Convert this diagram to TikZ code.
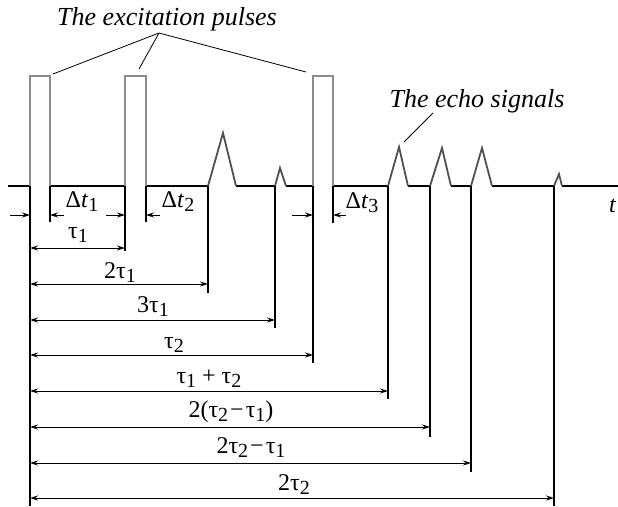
\documentclass[tikz,border=0pt]{standalone}
\usepackage{fontspec}
\setmainfont{Liberation Serif}
\usetikzlibrary{arrows.meta}
\newcommand\sbx[1]{\raisebox{-0.2em}{\fontsize{20}{20}\selectfont #1}}
\definecolor{pulsegray}{HTML}{8C8C8C}
\definecolor{echogray}{HTML}{505050}
\begin{document}
\begin{tikzpicture}[x=1pt,y=-1pt,
  base/.style={line width=2pt,black},
  pulse/.style={line width=2.3pt,pulsegray},
  echo/.style={line width=1.8pt,echogray},
  vl/.style={line width=1.2pt,black},
  dim/.style={line width=1pt,{Stealth[length=8pt,width=5pt]}-{Stealth[length=8pt,width=5pt]}},
  sarr/.style={line width=1pt,-{Stealth[length=8pt,width=5pt]}},
  lead/.style={line width=0.8pt},
  lab/.style={font=\fontsize{24}{26}\selectfont,inner sep=0pt,anchor=base},
  ttl/.style={font=\fontsize{26}{28}\selectfont\itshape,inner sep=0pt}]
\useasboundingbox (0,0) rectangle (618,506);
% key coordinates
\coordinate (top) at (0,76);
\coordinate (bot) at (0,506);
\coordinate (b0) at (8,186);
\coordinate (bend) at (618,186);
\coordinate (p1a) at (30,186);  \coordinate (p1b) at (50,186);
\coordinate (p2a) at (125,186); \coordinate (p2b) at (146,186);
\coordinate (p3a) at (313,186); \coordinate (p3b) at (333,186);
\coordinate (e1a) at (208,186); \coordinate (e1p) at (223,133); \coordinate (e1b) at (236,186);
\coordinate (e2a) at (275,186); \coordinate (e2p) at (280,168); \coordinate (e2b) at (286,186);
\coordinate (e3a) at (388,186); \coordinate (e3p) at (399,147); \coordinate (e3b) at (408,186);
\coordinate (e4a) at (430,186); \coordinate (e4p) at (442,148); \coordinate (e4b) at (451,186);
\coordinate (e5a) at (471,186); \coordinate (e5p) at (482,148); \coordinate (e5b) at (492,186);
\coordinate (e6a) at (554,186); \coordinate (e6p) at (559,174); \coordinate (e6b) at (562,186);
% baseline
\draw[base] (b0)--(p1a) (p1b)--(p2a) (p2b)--(e1a) (e1b)--(e2a) (e2b)--(p3a)
  (p3b)--(e3a) (e3b)--(e4a) (e4b)--(e5a) (e5b)--(e6a) (e6b)--(bend);
% pulses
\draw[pulse] (p1a) -- (p1a |- top) -| (p1b);
\draw[pulse] (p2a) -- (p2a |- top) -| (p2b);
\draw[pulse] (p3a) -- (p3a |- top) -| (p3b);
% echoes
\foreach \e in {e1,e2,e3,e4,e5,e6} \draw[echo] (\e a)--(\e p)--(\e b);
% vertical lines
\draw[vl] (p1a) -- (p1a |- bot);
\draw[vl] (p2a) -- (p2a |- 0,251);
\draw[vl] (e1a) -- (e1a |- 0,293);
\draw[vl] (e2a) -- (e2a |- 0,328);
\draw[vl] (p3a) -- (p3a |- 0,363);
\draw[vl] (e3a) -- (e3a |- 0,399);
\draw[vl] (e4a) -- (e4a |- 0,437);
\draw[vl] (e5a) -- (e5a |- 0,472);
\draw[vl] (e6a) -- (e6a |- bot);
\draw[vl] (p1b) -- (p1b |- 0,222);
\draw[vl] (p2b) -- (p2b |- 0,222);
\draw[vl] (p3b) -- (p3b |- 0,223);
% delta t arrows
\draw[sarr] (p1a -| 10,0) ++(0,29) coordinate (d1l) -- (p1a |- d1l);
\draw[sarr] (d1l -| 64,0) -- (p1b |- d1l);
\draw[sarr] (d1l -| 106,0) -- (p2a |- d1l);
\draw[sarr] (d1l -| 160,0) -- (p2b |- d1l);
\draw[sarr] (d1l -| 292,0) -- (p3a |- d1l);
\draw[sarr] (d1l -| 346,0) -- (p3b |- d1l);
\node[lab] (dt1) at (82,207) {Δ\textit{t}\sbx{1}};
\node[lab] (dt2) at (178,207) {Δ\textit{t}\sbx{2}};
\node[lab] (dt3) at (362,208) {Δ\textit{t}\sbx{3}};
\node[lab,anchor=base west] (tax) at (609,212) {\textit{t}};
% dimension arrows
\draw[dim] (p1a |- 0,248) -- (p2a |- 0,248);
\draw[dim] (p1a |- 0,284) -- (e1a |- 0,284);
\draw[dim] (p1a |- 0,320) -- (e2a |- 0,320);
\draw[dim] (p1a |- 0,355) -- (p3a |- 0,355);
\draw[dim] (p1a |- 0,391) -- (e3a |- 0,391);
\draw[dim] (p1a |- 0,427) -- (e4a |- 0,427);
\draw[dim] (p1a |- 0,463) -- (e5a |- 0,463);
\draw[dim] (p1a |- 0,498) -- (e6a |- 0,498);
\node[lab] (l1) at (78,238) {τ\sbx{1}};
\node[lab] (l2) at (120,278) {2τ\sbx{1}};
\node[lab] (l3) at (153,312) {3τ\sbx{1}};
\node[lab] (l4) at (174,348) {τ\sbx{2}};
\node[lab] (l5) at (209,383) {τ\sbx{1} + τ\sbx{2}};
\node[lab] (l6) at (231,417) {2(τ\sbx{2}\kern2pt−\kern2ptτ\sbx{1})};
\node[lab] (l7) at (251,453) {2τ\sbx{2}\kern2pt−\kern2ptτ\sbx{1}};
\node[lab] (l8) at (294,490) {2τ\sbx{2}};
% titles and leaders
\node[ttl] (exc) at (167,19) {The excitation pulses};
\node[ttl] (ech) at (477,101) {The echo signals};
\coordinate (lv) at (159,33);
\coordinate (t1) at (53,74);
\coordinate (t2) at (139,69);
\coordinate (t3) at (306,72);
\draw[lead] (t1) -- (lv) -- (t3) (lv) -- (t2);
\coordinate (ev) at (433,113);
\coordinate (et) at (404,142);
\draw[lead] (ev) -- (et);
\end{tikzpicture}
\end{document}
